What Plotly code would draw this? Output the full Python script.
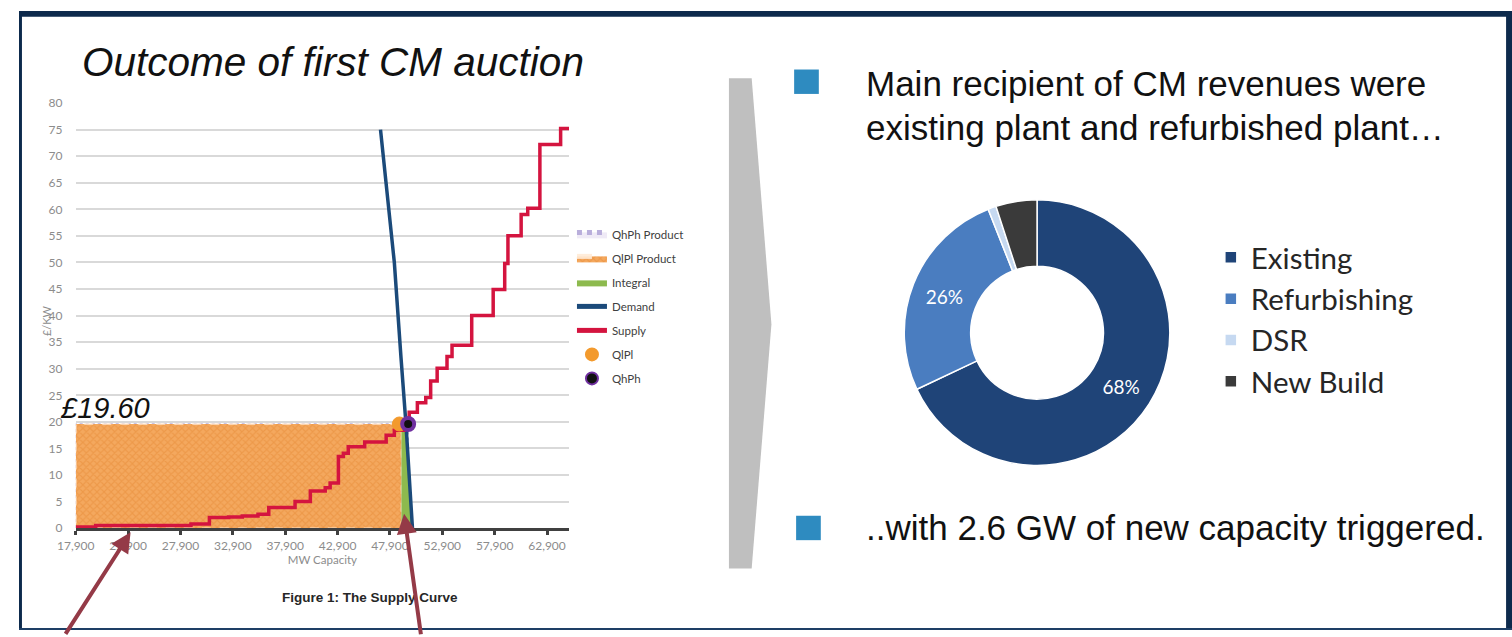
import plotly.graph_objects as go

W, H = 1512, 637
def X(px):
    return px / W
def Y(py):
    return 1 - py / H

# ---------------- data ----------------
supply_mw = [17900, 19800, 28900, 30660, 32500, 33800, 35300, 36330, 38840, 40300,
             41720, 42190, 42980, 43450, 43920, 45490, 47540, 48320, 49270, 49740,
             50520, 51320, 51790, 52410, 53350, 53830, 55710, 57760, 58860, 59170,
             60430, 61060, 62220, 64200, 65000]
supply_price = [0.2, 0.5, 0.8, 2.0, 2.1, 2.3, 2.6, 3.9, 5.0, 7.0,
                7.6, 8.5, 13.5, 14.1, 15.3, 16.2, 17.5, 18.4, 19.6, 21.8,
                23.6, 24.6, 27.7, 30.1, 32.3, 34.4, 40.0, 44.9, 49.8, 55.0,
                59.0, 60.2, 72.2, 75.2, 75.2]

demand_mw = [47000, 48320, 48960, 49430, 50050]
demand_price = [75, 50, 32, 19.6, 0]

clearing_price = 19.6
min_mw = 17900
ql_mw = 49000
qh_mw = 49640

qhph_rect_mw = [min_mw, qh_mw, qh_mw, min_mw, min_mw]
qhph_rect_price = [0, 0, clearing_price, clearing_price, 0]
qlpl_rect_mw = [min_mw, ql_mw, ql_mw, min_mw, min_mw]
qlpl_rect_price = [0, 0, clearing_price, clearing_price, 0]
integral_mw = [49000, 50050, 49430, 49000, 49000]
integral_price = [0, 0, 19.6, 19.6, 0]

x_ticks = [17900, 22900, 27900, 32900, 37900, 42900, 47900, 52900, 57900, 62900]
y_ticks = list(range(0, 85, 5))

pie_labels = ['Existing', 'Refurbishing', 'DSR', 'New Build']
pie_values = [68, 26, 1, 5]
pie_text = ['68%', '26%', '', '']
pie_colors = ['#1F4478', '#4A7DC0', '#C6D9F1', '#3A3A3A']

# ---------------- figure ----------------
fig = go.Figure()

fig.add_trace(go.Scatter(
    x=qhph_rect_mw, y=qhph_rect_price, name='QhPh Product', mode='lines',
    fill='toself', fillcolor='#EFEAF6',
    line=dict(color='#B9AEDB', width=1.5, dash='dot'),
    legendgroup='g1', hoverinfo='skip'))
fig.add_trace(go.Scatter(
    x=qlpl_rect_mw, y=qlpl_rect_price, name='QlPl Product', mode='lines',
    fill='toself', fillcolor='#F3A458',
    fillpattern=dict(shape='x', bgcolor='#F4A85E', fgcolor='#E58A36', size=5, solidity=0.4),
    line=dict(color='rgba(255,235,215,0.9)', width=1.5, dash='dash'),
    legendgroup='g2', hoverinfo='skip'))
fig.add_trace(go.Scatter(
    x=integral_mw, y=integral_price, name='Integral', mode='lines',
    fill='toself', fillcolor='#8DBA4E', line=dict(color='#8DBA4E', width=0),
    legendgroup='g3', hoverinfo='skip'))
fig.add_trace(go.Scatter(
    x=demand_mw, y=demand_price, name='Demand', mode='lines',
    line=dict(color='#1B4A7A', width=3.5), legendgroup='g4'))
fig.add_trace(go.Scatter(
    x=supply_mw, y=supply_price, name='Supply', mode='lines',
    line=dict(color='#D4143F', width=3.5, shape='hv'), legendgroup='g5'))
fig.add_trace(go.Scatter(
    x=[ql_mw - 200], y=[clearing_price], name='QlPl', mode='markers',
    marker=dict(color='#F39A2D', size=14, line=dict(color='#F39A2D', width=1)),
    legendgroup='g6'))
fig.add_trace(go.Scatter(
    x=[qh_mw], y=[clearing_price], name='QhPh', mode='markers',
    marker=dict(color='#111111', size=12, line=dict(color='#7030A0', width=4)),
    legendgroup='g7'))

fig.add_trace(go.Pie(
    labels=pie_labels, values=pie_values, hole=0.5, sort=False,
    direction='clockwise', rotation=0,
    marker=dict(colors=pie_colors, line=dict(color='white', width=1.5)),
    text=pie_text, textinfo='text', textposition='inside',
    insidetextorientation='horizontal',
    textfont=dict(family='Lato', size=19, color='white'),
    domain=dict(x=[X(895), X(1167)], y=[Y(468.5), Y(196.5)]),
    legend='legend2', hoverinfo='label+percent'))

tick_font = dict(family='Lato', size=12, color='#8C8C8C')

fig.update_layout(
    width=W, height=H, autosize=False,
    margin=dict(l=0, r=0, t=0, b=0),
    paper_bgcolor='white', plot_bgcolor='white',
    xaxis=dict(domain=[X(57.5), X(557)], range=[17900, 65000],
               tickvals=x_ticks, tickformat=',d',
               showgrid=False, zeroline=False,
               showline=True, linecolor='#404040', linewidth=3,
               ticks='outside', ticklen=4, tickwidth=3, tickcolor='#404040',
               tickfont=tick_font,
               title=dict(text='MW Capacity', font=dict(family='Lato', size=11.5, color='#8C8C8C'), standoff=3)),
    yaxis=dict(domain=[Y(532.7), Y(97.3)], range=[0, 80], tickvals=y_ticks,
               showgrid=True, gridcolor='#D9D9D9', gridwidth=1.5,
               zeroline=False, showline=False,
               ticks='outside', ticklen=10, tickcolor='rgba(0,0,0,0)',
               tickfont=tick_font),
    showlegend=True,
    legend=dict(x=X(560), y=Y(217), xanchor='left', yanchor='top',
                font=dict(family='Lato', size=11.5, color='#404040'),
                bgcolor='rgba(0,0,0,0)', itemwidth=30, tracegroupgap=5,
                traceorder='grouped', itemsizing='constant'),
    legend2=dict(x=X(1207), y=Y(229), xanchor='left', yanchor='top',
                 font=dict(family='Lato', size=29.5, color='#262626'),
                 bgcolor='rgba(0,0,0,0)', itemwidth=30),
)

annotations = [
    dict(text='<i>Outcome of first CM auction</i>', x=X(62), y=Y(55), xanchor='left', yanchor='middle',
         font=dict(family='Liberation Sans', size=40.5, color='#111111')),
    dict(text='<i>£19.60</i>', x=X(40), y=Y(410), xanchor='left', yanchor='middle',
         font=dict(family='Liberation Sans', size=29, color='#111111')),
    dict(text='£/KW', x=X(28), y=Y(320), xanchor='center', yanchor='middle', textangle=-90,
         font=dict(family='Lato', size=11, color='#8C8C8C')),
    dict(text='<b>Figure 1: The Supply Curve</b>', x=X(355), y=Y(604), xanchor='center', yanchor='middle',
         font=dict(family='Liberation Sans', size=13.5, color='#262626')),
    dict(text='Main recipient of CM revenues were', x=X(856), y=Y(77), xanchor='left', yanchor='middle',
         font=dict(family='Liberation Sans', size=35, color='#111111')),
    dict(text='existing plant and refurbished plant…', x=X(856), y=Y(122), xanchor='left', yanchor='middle',
         font=dict(family='Liberation Sans', size=35, color='#111111')),
    dict(text='..with 2.6 GW of new capacity triggered.', x=X(856), y=Y(532), xanchor='left', yanchor='middle',
         font=dict(family='Liberation Sans', size=35, color='#111111')),
    dict(text='', x=X(113), y=Y(537), showarrow=True, ax=47 - 113, ay=640 - 537,
         arrowcolor='#943A47', arrowwidth=4, arrowhead=2, arrowsize=1, standoff=0),
    dict(text='', x=X(390), y=Y(518), showarrow=True, ax=407 - 390, ay=640 - 518,
         arrowcolor='#943A47', arrowwidth=4, arrowhead=2, arrowsize=1, standoff=0),
]
for a in annotations:
    a.setdefault('xref', 'paper')
    a.setdefault('yref', 'paper')
    a.setdefault('showarrow', False)
fig.update_layout(annotations=annotations)

def path(points):
    return 'M ' + ' L '.join(f'{X(px):.5f},{Y(py):.5f}' for px, py in points) + ' Z'

shapes = [
    # chevron
    dict(type='path', xref='paper', yref='paper',
         path=path([(719, 72), (742, 72), (762, 324), (742, 574), (719, 574)]),
         fillcolor='#BFBFBF', line=dict(width=0), layer='below'),
    # bullets
    dict(type='rect', xref='paper', yref='paper', x0=X(785), x1=X(810), y0=Y(88), y1=Y(63),
         fillcolor='#2E8BC0', line=dict(width=0)),
    dict(type='rect', xref='paper', yref='paper', x0=X(787), x1=X(812), y0=Y(545), y1=Y(520),
         fillcolor='#2E8BC0', line=dict(width=0)),
    # frame
    dict(type='rect', xref='paper', yref='paper', x0=0, x1=1, y0=Y(9), y1=Y(3),
         fillcolor='#0D2A4C', line=dict(width=0)),
    dict(type='rect', xref='paper', yref='paper', x0=0, x1=X(3), y0=0, y1=Y(3),
         fillcolor='#0D2A4C', line=dict(width=0)),
    dict(type='rect', xref='paper', yref='paper', x0=X(1506), x1=1, y0=0, y1=Y(3),
         fillcolor='#0D2A4C', line=dict(width=0)),
    dict(type='rect', xref='paper', yref='paper', x0=0, x1=1, y0=0, y1=Y(635),
         fillcolor='#1E3F66', line=dict(width=0)),
]
fig.update_layout(shapes=shapes)

fig.write_html('out.html')
